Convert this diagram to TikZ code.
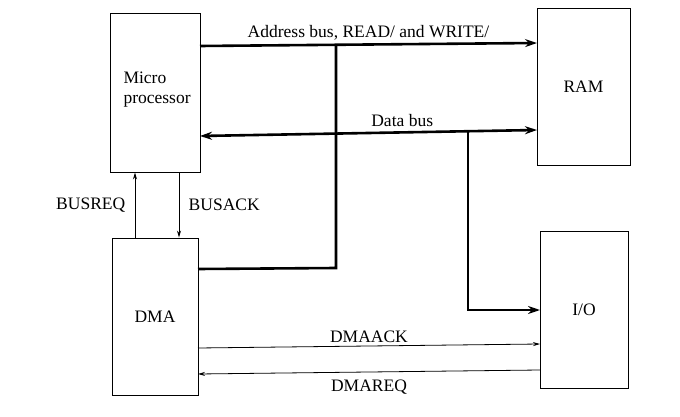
\documentclass[tikz,border=0pt]{standalone}
\usepackage{fontspec}
\setmainfont{Liberation Serif}
\usetikzlibrary{arrows.meta}
\begin{document}
\begin{tikzpicture}[x=1pt,y=-1pt,
  blk/.style={draw,line width=0.9pt,inner sep=0pt,minimum width=#1},
  bus/.style={line width=2.6pt,-{Stealth[length=12pt,width=8pt]}},
  busl/.style={line width=2.6pt},
  sig/.style={line width=0.8pt,-{Stealth[length=7pt,width=4pt]}},
  lbl/.style={font=\fontsize{17.5}{20}\selectfont}]
\useasboundingbox (0,0) rectangle (680,417);
\node[blk=90pt,minimum height=159pt] (mp) at (155,92.5) {};
\node[lbl,align=left,anchor=west] (mpt) at (120,90) {Micro\\processor};
\node[blk=93pt,minimum height=157pt,lbl] (ram) at (583.5,86.5) {RAM};
\node[blk=86pt,minimum height=157pt,lbl] (dma) at (155,316.5) {DMA};
\node[blk=88pt,minimum height=157pt,lbl] (io) at (584,309.5) {I/O};
% address bus
\coordinate (a0) at (200,46);
\coordinate (a1) at (537,43);
\coordinate (aj) at (336,45);
\coordinate (ad) at (336,268);
\coordinate (dmaA) at (198,269);
\draw[bus] (a0) -- (a1) node[lbl,midway,above=0pt] {Address bus, READ/ and WRITE/};
\draw[busl] (aj) -- (ad) -- (dmaA);
% data bus
\coordinate (d0) at (200,136);
\coordinate (d1) at (537,130);
\coordinate (dj) at (468,132);
\coordinate (dd) at (468,310);
\coordinate (ioD) at (540,310);
\draw[line width=2.6pt,{Stealth[length=12pt,width=8pt]}-{Stealth[length=12pt,width=8pt]}] (d0) -- (d1) node[lbl,pos=0.6,above=1pt] {Data bus};
\draw[bus] (dj) -- (dd) -- (ioD);
% BUSREQ / BUSACK
\draw[sig] (dma.north -| 135,0) -- (mp.south -| 135,0) node[lbl,midway,left=6pt] {BUSREQ};
\draw[sig] (mp.south -| 179,0) -- (dma.north -| 179,0) node[lbl,midway,right=6pt] {BUSACK};
% DMAACK / DMAREQ
\draw[sig] (198,348) -- (540,344) node[lbl,midway,above=0pt] {DMAACK};
\draw[sig] (540,370) -- (198,374) node[lbl,midway,below=4pt] {DMAREQ};
\end{tikzpicture}
\end{document}
